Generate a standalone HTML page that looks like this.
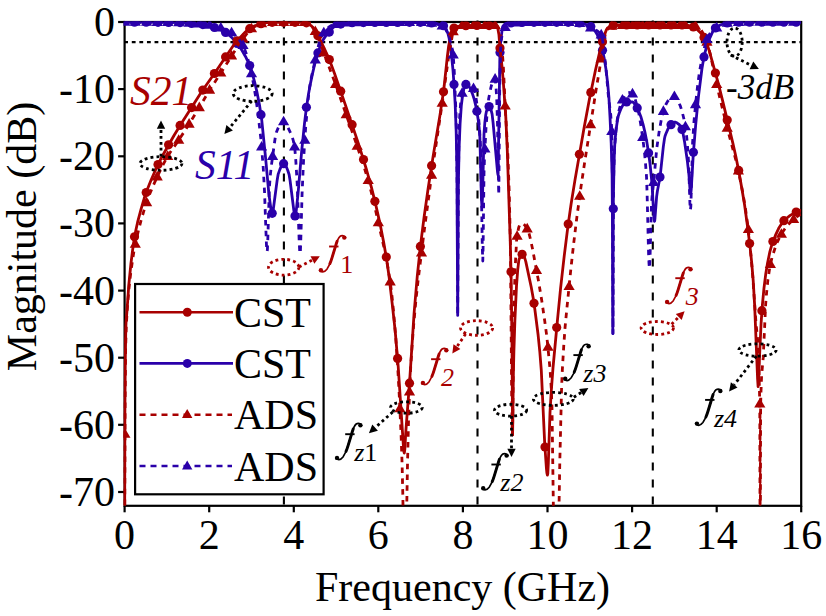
<!DOCTYPE html>
<html><head><meta charset="utf-8"><style>html,body{margin:0;padding:0;background:#fff;overflow:hidden}svg{display:block}</style></head>
<body><svg width="826" height="616" viewBox="0 0 826 616">
<defs><clipPath id="pc"><rect x="123.4" y="21.5" width="677.8" height="484.3"/></clipPath></defs>
<rect width="826" height="616" fill="#fff"/>
<g stroke="#000" stroke-width="2.1" fill="none">
<path d="M124.2 42.1H801.2" stroke-dasharray="3.8 3.787"/>
<path d="M283.9 20.6V505.8" stroke-dasharray="7.8 9.2"/>
<path d="M477.5 20.6V505.8" stroke-dasharray="7.8 9.2"/>
<path d="M652.8 20.6V505.8" stroke-dasharray="7.8 9.2"/>
</g>
<g stroke="#000" stroke-width="2.2" fill="none">
<rect x="124.6" y="22.0" width="676.6" height="483.8"/>
<path d="M118.1 22.0H124.6"/>
<path d="M118.1 89.1H124.6"/>
<path d="M118.1 156.3H124.6"/>
<path d="M118.1 223.4H124.6"/>
<path d="M118.1 290.6H124.6"/>
<path d="M118.1 357.7H124.6"/>
<path d="M118.1 424.8H124.6"/>
<path d="M118.1 492.0H124.6"/>
<path d="M124.6 505.8V512.3"/>
<path d="M209.2 505.8V512.3"/>
<path d="M293.8 505.8V512.3"/>
<path d="M378.3 505.8V512.3"/>
<path d="M462.9 505.8V512.3"/>
<path d="M547.5 505.8V512.3"/>
<path d="M632.1 505.8V512.3"/>
<path d="M716.7 505.8V512.3"/>
<path d="M801.2 505.8V512.3"/>
</g>
<g clip-path="url(#pc)">
<path d="M124.6 22.2 L167.1 22.3 L179.1 22.6 L186.4 23.0 L198.5 24.1 L203.6 24.8 L208.5 25.8 L214.4 27.5 L218.8 29.1 L222.7 30.8 L226.0 32.6 L228.5 34.5 L231.4 37.1 L234.4 40.3 L238.6 45.5 L242.2 50.7 L245.6 56.7 L248.6 63.1 L250.7 68.2 L252.5 74.1 L254.7 82.4 L256.9 91.8 L259.5 105.0 L261.7 119.7 L265.7 159.2 L268.9 194.1 L270.8 207.9 L271.8 212.9 L272.1 213.3 L272.5 213.0 L273.2 210.0 L277.2 179.9 L278.2 174.1 L279.8 169.6 L281.3 166.1 L282.6 164.1 L283.3 163.7 L283.8 163.7 L284.3 163.9 L285.0 164.6 L286.2 166.5 L287.7 170.2 L289.1 174.5 L290.1 180.8 L294.0 211.7 L294.5 214.7 L295.0 216.0 L295.5 215.1 L296.2 211.2 L298.0 194.2 L301.6 151.8 L304.5 123.3 L306.2 109.4 L308.5 94.0 L310.4 83.8 L312.4 74.1 L314.8 63.8 L316.8 56.2 L319.0 49.6 L321.4 43.6 L323.4 39.4 L325.6 36.1 L333.1 27.6 L335.3 25.7 L337.5 24.9 L341.5 23.9 L348.8 22.9 L352.9 22.7 L376.9 22.5 L424.1 22.4 L431.9 22.9 L436.8 23.5 L440.8 24.6 L444.1 26.1 L445.1 27.3 L446.1 29.1 L448.1 34.1 L449.0 37.6 L450.0 43.9 L451.7 57.1 L452.9 69.0 L454.2 86.9 L455.2 104.6 L456.2 132.3 L456.9 168.6 L457.7 315.4 L458.4 183.1 L459.1 147.7 L460.1 123.4 L461.3 105.8 L462.2 98.5 L463.2 91.9 L464.0 88.3 L465.0 85.5 L465.5 84.6 L465.9 84.4 L467.2 84.8 L468.6 85.6 L470.1 88.1 L472.3 93.4 L474.0 98.5 L475.5 104.6 L477.0 112.2 L478.2 119.7 L479.1 127.1 L479.9 137.6 L481.4 198.4 L482.0 207.3 L482.5 197.6 L484.0 134.1 L484.8 123.0 L485.7 115.3 L486.4 111.4 L487.5 108.4 L488.7 106.7 L489.2 106.6 L489.7 107.0 L490.4 108.2 L491.1 110.1 L492.1 114.1 L493.1 122.9 L497.5 171.7 L497.9 174.4 L498.1 175.1 L499.9 54.2 L500.4 45.0 L500.9 39.6 L502.3 28.5 L502.6 26.9 L502.9 26.2 L504.3 24.6 L506.5 23.5 L516.1 22.6 L525.4 22.3 L572.9 22.3 L577.0 22.6 L583.3 23.7 L587.0 24.8 L590.4 26.4 L592.1 27.7 L593.8 29.5 L595.8 32.3 L597.2 34.6 L599.7 40.8 L602.3 49.4 L604.1 57.7 L606.0 69.4 L607.7 83.6 L608.9 97.4 L610.0 116.8 L611.2 143.1 L612.1 175.1 L612.4 213.6 L612.8 333.5 L613.3 203.3 L613.8 175.6 L614.4 151.7 L614.9 142.3 L615.6 134.4 L616.5 126.8 L617.5 120.0 L618.3 116.0 L619.2 113.2 L621.2 108.3 L622.9 105.1 L624.6 102.9 L626.1 102.0 L632.2 101.9 L632.9 102.1 L633.6 102.6 L635.6 105.3 L637.5 108.4 L638.6 110.9 L640.7 116.2 L643.0 124.1 L644.9 132.0 L646.8 141.7 L648.6 153.2 L650.0 163.5 L652.0 183.7 L653.7 214.4 L654.0 218.9 L654.5 221.4 L654.7 220.8 L655.0 218.0 L656.6 196.9 L657.4 191.0 L659.4 180.4 L660.3 174.9 L663.3 146.9 L664.5 138.5 L665.0 136.2 L665.9 133.7 L667.9 129.1 L670.1 125.7 L673.2 122.5 L674.2 122.1 L675.5 122.2 L677.2 123.1 L679.1 124.5 L680.1 125.7 L681.3 127.8 L682.1 129.8 L682.8 132.2 L684.5 141.4 L687.4 161.3 L688.9 174.5 L690.2 192.1 L690.6 193.8 L690.8 193.7 L691.3 188.5 L693.3 153.8 L695.7 124.6 L698.5 96.1 L701.9 69.0 L703.8 57.8 L705.3 51.4 L706.8 46.1 L709.9 37.8 L712.4 32.3 L714.1 29.4 L715.1 28.3 L716.8 27.0 L719.2 25.6 L721.5 24.5 L725.4 23.3 L730.3 22.7 L741.2 22.2 L801.2 22.2" stroke="#2a00aa" stroke-width="2.8" fill="none" stroke-linejoin="round"/><g fill="#2a00aa"><circle cx="134.5" cy="22.2" r="4.6"/><circle cx="146.2" cy="22.2" r="4.6"/><circle cx="158.0" cy="22.3" r="4.6"/><circle cx="168.6" cy="22.4" r="4.6"/><circle cx="180.1" cy="22.6" r="4.6"/><circle cx="191.6" cy="23.5" r="4.6"/><circle cx="202.8" cy="24.6" r="4.6"/><circle cx="214.4" cy="27.5" r="4.6"/><circle cx="225.6" cy="32.4" r="4.6"/><circle cx="237.1" cy="43.5" r="4.6"/><circle cx="249.7" cy="65.6" r="4.6"/><circle cx="261.0" cy="114.7" r="4.6"/><circle cx="272.2" cy="213.3" r="4.6"/><circle cx="283.6" cy="163.7" r="4.6"/><circle cx="295.0" cy="216.0" r="4.6"/><circle cx="306.4" cy="107.3" r="4.6"/><circle cx="317.9" cy="52.9" r="4.6"/><circle cx="329.3" cy="32.1" r="4.6"/><circle cx="340.7" cy="24.1" r="4.6"/><circle cx="352.1" cy="22.7" r="4.6"/><circle cx="363.5" cy="22.6" r="4.6"/><circle cx="374.9" cy="22.5" r="4.6"/><circle cx="386.3" cy="22.4" r="4.6"/><circle cx="397.6" cy="22.4" r="4.6"/><circle cx="409.5" cy="22.3" r="4.6"/><circle cx="420.4" cy="22.3" r="4.6"/><circle cx="431.6" cy="22.9" r="4.6"/><circle cx="443.5" cy="25.7" r="4.6"/><circle cx="454.0" cy="84.4" r="4.6"/><circle cx="465.9" cy="84.4" r="4.6"/><circle cx="476.9" cy="111.3" r="4.6"/><circle cx="489.1" cy="106.6" r="4.6"/><circle cx="500.0" cy="52.5" r="4.6"/><circle cx="511.0" cy="23.0" r="4.6"/><circle cx="522.1" cy="22.4" r="4.6"/><circle cx="534.0" cy="22.3" r="4.6"/><circle cx="545.0" cy="22.3" r="4.6"/><circle cx="556.7" cy="22.3" r="4.6"/><circle cx="568.2" cy="22.3" r="4.6"/><circle cx="579.4" cy="23.0" r="4.6"/><circle cx="590.8" cy="26.6" r="4.6"/><circle cx="602.5" cy="50.2" r="4.6"/><circle cx="613.3" cy="208.8" r="4.6"/><circle cx="626.6" cy="101.9" r="4.6"/><circle cx="637.2" cy="107.9" r="4.6"/><circle cx="648.6" cy="152.9" r="4.6"/><circle cx="660.0" cy="177.1" r="4.6"/><circle cx="671.0" cy="124.7" r="4.6"/><circle cx="682.0" cy="129.4" r="4.6"/><circle cx="693.4" cy="152.3" r="4.6"/><circle cx="704.0" cy="56.9" r="4.6"/><circle cx="715.4" cy="28.0" r="4.6"/><circle cx="727.2" cy="23.0" r="4.6"/><circle cx="738.7" cy="22.2" r="4.6"/><circle cx="749.6" cy="22.2" r="4.6"/><circle cx="761.9" cy="22.2" r="4.6"/><circle cx="772.9" cy="22.2" r="4.6"/><circle cx="783.9" cy="22.2" r="4.6"/><circle cx="796.2" cy="22.2" r="4.6"/></g>
<path d="M124.6 559.1 L124.9 411.4 L125.3 360.4 L125.8 328.0 L126.1 321.3 L127.1 309.4 L128.8 284.9 L130.9 264.0 L132.6 250.1 L134.1 239.6 L135.8 230.5 L137.6 222.2 L141.2 208.6 L144.2 198.3 L147.3 189.5 L151.2 179.7 L155.6 169.8 L160.6 159.3 L165.9 149.7 L174.0 135.5 L181.8 122.7 L201.9 91.3 L214.6 73.2 L233.7 45.0 L239.0 38.7 L244.9 32.4 L248.8 29.3 L253.7 26.4 L256.9 25.0 L260.0 23.9 L265.4 22.8 L269.3 22.4 L304.5 22.3 L306.2 22.7 L308.0 23.5 L311.7 26.2 L313.3 27.9 L315.3 31.2 L320.0 39.7 L323.9 47.6 L328.2 57.0 L331.2 64.5 L334.7 74.1 L345.2 104.4 L358.1 142.6 L362.3 155.8 L366.6 170.0 L371.5 187.7 L375.7 204.7 L380.3 224.9 L383.8 242.9 L386.7 259.8 L389.1 276.8 L392.4 305.3 L395.2 331.1 L398.2 366.5 L403.3 444.7 L403.8 450.5 L404.1 452.6 L404.3 453.0 L404.8 449.6 L405.8 431.8 L409.7 380.4 L414.1 313.0 L417.3 275.9 L420.7 243.8 L424.1 217.0 L428.1 188.7 L433.1 156.4 L440.0 115.0 L443.0 94.9 L444.2 85.8 L447.3 57.0 L448.6 46.3 L449.5 41.8 L451.7 33.0 L452.9 29.7 L453.5 28.5 L454.0 28.0 L455.9 27.1 L457.9 26.5 L463.0 25.9 L473.5 25.4 L487.7 25.5 L496.8 26.1 L497.4 26.9 L498.0 29.5 L498.9 34.4 L500.0 48.2 L502.1 67.4 L503.4 83.2 L505.8 117.1 L507.3 150.6 L510.2 239.7 L511.1 274.5 L512.0 344.3 L512.6 434.9 L513.4 372.7 L513.9 350.9 L514.9 320.1 L516.5 285.9 L517.7 270.1 L518.8 260.3 L519.9 257.2 L521.0 255.0 L521.5 254.5 L522.1 254.3 L522.9 254.8 L524.6 257.7 L525.8 261.6 L531.2 287.0 L533.1 297.5 L534.9 309.7 L538.1 334.8 L539.8 351.7 L541.3 370.4 L544.7 443.4 L546.4 468.0 L546.9 473.0 L547.4 475.2 L547.8 473.6 L548.3 463.7 L550.0 412.6 L551.3 390.6 L553.0 367.9 L557.3 321.9 L560.6 288.1 L564.2 256.1 L567.9 226.4 L571.1 204.0 L575.0 179.9 L584.0 128.2 L589.4 99.2 L595.5 70.0 L599.6 52.4 L601.6 44.8 L605.0 33.5 L606.3 29.9 L607.3 28.2 L609.2 26.9 L611.2 25.9 L613.1 25.3 L614.8 25.0 L684.9 25.0 L686.9 25.2 L689.7 25.8 L693.6 27.1 L695.3 28.0 L697.2 29.4 L699.7 31.9 L702.4 35.2 L704.5 38.2 L706.0 41.4 L707.7 45.9 L709.7 52.4 L718.2 83.1 L722.4 99.9 L732.9 143.3 L735.9 156.8 L738.6 170.3 L741.8 188.2 L744.6 205.1 L747.4 225.5 L750.0 246.4 L751.7 262.6 L753.2 280.7 L754.7 306.3 L757.6 378.9 L758.1 386.6 L758.6 381.2 L759.6 355.0 L761.1 323.2 L762.5 303.7 L764.0 288.0 L765.7 274.3 L767.6 262.8 L769.9 251.6 L772.3 243.2 L775.4 235.4 L778.7 228.3 L782.1 222.9 L783.6 221.0 L785.7 219.0 L790.2 215.4 L796.2 212.0 L801.2 210.0" stroke="#a80000" stroke-width="2.8" fill="none" stroke-linejoin="round"/><g fill="#a80000"><circle cx="134.5" cy="236.8" r="4.6"/><circle cx="146.2" cy="192.5" r="4.6"/><circle cx="158.0" cy="164.6" r="4.6"/><circle cx="168.6" cy="144.8" r="4.6"/><circle cx="180.1" cy="125.4" r="4.6"/><circle cx="191.6" cy="107.6" r="4.6"/><circle cx="202.8" cy="90.1" r="4.6"/><circle cx="214.4" cy="73.5" r="4.6"/><circle cx="225.6" cy="56.9" r="4.6"/><circle cx="237.1" cy="40.8" r="4.6"/><circle cx="249.7" cy="28.7" r="4.6"/><circle cx="261.0" cy="23.7" r="4.6"/><circle cx="272.2" cy="22.3" r="4.6"/><circle cx="283.6" cy="22.3" r="4.6"/><circle cx="295.0" cy="22.3" r="4.6"/><circle cx="306.4" cy="22.8" r="4.6"/><circle cx="317.9" cy="35.8" r="4.6"/><circle cx="329.3" cy="59.6" r="4.6"/><circle cx="340.7" cy="91.2" r="4.6"/><circle cx="352.1" cy="124.7" r="4.6"/><circle cx="363.5" cy="159.6" r="4.6"/><circle cx="374.9" cy="201.3" r="4.6"/><circle cx="386.3" cy="257.1" r="4.6"/><circle cx="397.6" cy="358.4" r="4.6"/><circle cx="409.5" cy="383.2" r="4.6"/><circle cx="420.4" cy="246.4" r="4.6"/><circle cx="431.6" cy="165.7" r="4.6"/><circle cx="443.5" cy="91.8" r="4.6"/><circle cx="454.0" cy="28.0" r="4.6"/><circle cx="465.9" cy="25.7" r="4.6"/><circle cx="476.9" cy="25.4" r="4.6"/><circle cx="489.1" cy="25.6" r="4.6"/><circle cx="500.0" cy="48.0" r="4.6"/><circle cx="511.0" cy="271.8" r="4.6"/><circle cx="522.1" cy="254.3" r="4.6"/><circle cx="534.0" cy="303.3" r="4.6"/><circle cx="545.0" cy="447.0" r="4.6"/><circle cx="556.7" cy="327.5" r="4.6"/><circle cx="568.2" cy="224.1" r="4.6"/><circle cx="579.4" cy="154.3" r="4.6"/><circle cx="590.8" cy="92.4" r="4.6"/><circle cx="602.5" cy="41.8" r="4.6"/><circle cx="613.3" cy="25.2" r="4.6"/><circle cx="626.6" cy="25.0" r="4.6"/><circle cx="637.2" cy="25.0" r="4.6"/><circle cx="648.6" cy="25.0" r="4.6"/><circle cx="660.0" cy="25.0" r="4.6"/><circle cx="671.0" cy="25.0" r="4.6"/><circle cx="682.0" cy="25.0" r="4.6"/><circle cx="693.4" cy="27.0" r="4.6"/><circle cx="704.0" cy="37.4" r="4.6"/><circle cx="715.4" cy="73.0" r="4.6"/><circle cx="727.2" cy="120.0" r="4.6"/><circle cx="738.7" cy="170.4" r="4.6"/><circle cx="749.6" cy="243.6" r="4.6"/><circle cx="761.9" cy="310.7" r="4.6"/><circle cx="772.9" cy="241.5" r="4.6"/><circle cx="783.9" cy="220.7" r="4.6"/><circle cx="796.2" cy="212.0" r="4.6"/></g>
<path d="M124.6 559.1 L125.1 400.2 L125.6 349.3 L126.3 325.8 L127.5 305.0 L129.3 285.2 L130.7 273.2 L132.6 259.8 L134.2 249.6 L136.1 240.5 L138.5 230.3 L141.0 220.6 L143.7 211.4 L146.9 201.6 L149.8 193.8 L153.5 184.9 L158.6 173.8 L162.8 165.2 L166.7 158.0 L170.1 152.5 L178.2 140.9 L185.7 129.4 L198.2 109.4 L210.0 89.4 L220.7 73.2 L230.4 57.8 L239.5 43.7 L246.1 34.7 L249.3 30.7 L252.3 28.1 L256.7 25.3 L259.1 24.2 L262.0 23.5 L265.9 22.7 L269.1 22.4 L306.5 22.3 L307.8 22.7 L309.4 23.7 L310.9 25.3 L312.8 27.7 L316.0 32.4 L318.0 36.8 L323.2 51.4 L335.6 84.4 L356.4 143.9 L364.0 166.6 L368.6 181.9 L371.5 192.9 L374.7 206.5 L383.5 245.3 L386.4 259.1 L388.6 271.4 L390.6 284.7 L392.1 297.2 L393.6 312.2 L395.8 338.2 L397.5 363.2 L399.2 394.1 L401.1 435.1 L402.1 464.3 L402.9 498.5 L403.7 559.1 L405.8 559.1 L407.5 464.5 L408.5 421.6 L409.4 395.3 L410.7 367.3 L412.1 345.4 L413.6 325.7 L415.8 301.4 L418.2 279.4 L423.7 234.7 L432.5 168.5 L442.2 103.2 L448.3 58.8 L452.3 35.3 L453.5 30.6 L454.5 28.7 L456.2 27.4 L458.1 26.3 L459.8 25.7 L461.5 25.4 L496.0 25.4 L496.5 25.5 L497.2 26.1 L498.4 27.8 L500.1 31.9 L500.6 34.0 L501.8 44.6 L503.4 67.9 L505.2 105.9 L507.7 151.4 L509.2 192.1 L510.4 242.5 L511.7 395.8 L512.1 424.4 L512.4 434.9 L512.8 417.8 L513.4 342.8 L513.9 311.1 L515.1 269.5 L516.6 240.2 L517.5 233.3 L518.7 227.6 L519.5 225.5 L521.2 223.7 L521.9 223.4 L522.7 223.5 L523.6 224.0 L524.6 225.0 L527.3 229.0 L528.7 232.2 L530.3 238.5 L532.4 248.2 L538.5 281.0 L541.7 300.2 L544.7 320.8 L546.6 334.9 L547.9 347.0 L550.1 369.8 L551.3 388.9 L552.0 408.0 L554.0 552.2 L554.3 559.1 L558.1 559.0 L559.8 462.1 L561.6 387.5 L562.3 370.6 L563.7 346.7 L565.0 328.0 L566.6 311.2 L570.8 269.5 L573.5 245.0 L577.0 216.1 L581.1 186.0 L584.5 163.4 L596.0 90.4 L601.8 55.7 L604.1 40.4 L605.5 33.3 L606.1 31.1 L606.7 30.1 L608.7 28.2 L610.7 26.7 L612.7 25.8 L614.8 25.4 L689.2 25.4 L693.1 25.7 L698.0 26.8 L699.2 27.7 L700.6 29.2 L702.3 31.9 L704.3 36.0 L707.2 42.7 L708.3 46.3 L710.7 55.9 L716.1 82.1 L720.0 98.6 L727.8 130.3 L735.8 159.9 L739.3 175.5 L742.7 192.3 L745.4 208.1 L747.9 226.0 L749.8 242.3 L752.7 275.7 L755.9 322.0 L757.8 341.5 L758.4 353.8 L758.9 367.6 L759.8 404.0 L760.1 559.1 L760.3 559.1 L760.6 405.7 L761.0 391.5 L761.6 375.7 L763.2 357.9 L765.7 303.4 L766.6 292.6 L767.9 279.8 L769.8 267.3 L772.1 257.2 L775.4 247.0 L777.2 242.3 L779.1 238.3 L781.1 234.6 L783.5 230.8 L785.8 227.6 L788.5 224.3 L791.6 221.2 L795.1 218.1 L798.2 215.8 L801.2 214.0" stroke="#a80000" stroke-width="2.8" fill="none" stroke-linejoin="round" stroke-dasharray="5.5 5.3"/><g fill="#a80000"><path d="M124.9 428.2l5.6 9.6h-11.2z"/><path d="M135.3 238.2l5.6 9.6h-11.2z"/><path d="M146.6 196.6l5.6 9.6h-11.2z"/><path d="M157.2 170.8l5.6 9.6h-11.2z"/><path d="M167.7 150.3l5.6 9.6h-11.2z"/><path d="M178.7 134.2l5.6 9.6h-11.2z"/><path d="M189.1 118.1l5.6 9.6h-11.2z"/><path d="M199.3 101.6l5.6 9.6h-11.2z"/><path d="M209.6 84.1l5.6 9.6h-11.2z"/><path d="M220.8 67.0l5.6 9.6h-11.2z"/><path d="M231.6 49.9l5.6 9.6h-11.2z"/><path d="M243.0 32.8l5.6 9.6h-11.2z"/><path d="M251.5 22.7l5.6 9.6h-11.2z"/><path d="M261.6 17.6l5.6 9.6h-11.2z"/><path d="M272.6 16.3l5.6 9.6h-11.2z"/><path d="M283.6 16.3l5.6 9.6h-11.2z"/><path d="M294.6 16.3l5.6 9.6h-11.2z"/><path d="M304.8 16.3l5.6 9.6h-11.2z"/><path d="M315.3 25.4l5.6 9.6h-11.2z"/><path d="M323.8 46.9l5.6 9.6h-11.2z"/><path d="M335.6 78.4l5.6 9.6h-11.2z"/><path d="M346.2 108.7l5.6 9.6h-11.2z"/><path d="M357.2 140.2l5.6 9.6h-11.2z"/><path d="M368.2 174.5l5.6 9.6h-11.2z"/><path d="M378.3 216.7l5.6 9.6h-11.2z"/><path d="M390.2 275.8l5.6 9.6h-11.2z"/><path d="M399.9 402.7l5.6 9.6h-11.2z"/><path d="M409.5 385.9l5.6 9.6h-11.2z"/><path d="M421.5 247.0l5.6 9.6h-11.2z"/><path d="M431.6 169.1l5.6 9.6h-11.2z"/><path d="M442.2 97.2l5.6 9.6h-11.2z"/><path d="M453.2 25.7l5.6 9.6h-11.2z"/><path d="M462.1 19.4l5.6 9.6h-11.2z"/><path d="M473.5 19.4l5.6 9.6h-11.2z"/><path d="M484.9 19.4l5.6 9.6h-11.2z"/><path d="M495.1 19.4l5.6 9.6h-11.2z"/><path d="M505.2 99.9l5.6 9.6h-11.2z"/><path d="M517.1 230.2l5.6 9.6h-11.2z"/><path d="M527.2 222.8l5.6 9.6h-11.2z"/><path d="M536.5 264.4l5.6 9.6h-11.2z"/><path d="M548.0 341.2l5.6 9.6h-11.2z"/><path d="M569.1 280.5l5.6 9.6h-11.2z"/><path d="M579.7 190.2l5.6 9.6h-11.2z"/><path d="M590.6 118.7l5.6 9.6h-11.2z"/><path d="M601.2 52.9l5.6 9.6h-11.2z"/><path d="M611.8 20.1l5.6 9.6h-11.2z"/><path d="M622.4 19.4l5.6 9.6h-11.2z"/><path d="M632.5 19.4l5.6 9.6h-11.2z"/><path d="M642.7 19.4l5.6 9.6h-11.2z"/><path d="M653.6 19.4l5.6 9.6h-11.2z"/><path d="M663.4 19.4l5.6 9.6h-11.2z"/><path d="M674.4 19.4l5.6 9.6h-11.2z"/><path d="M685.4 19.4l5.6 9.6h-11.2z"/><path d="M695.5 20.1l5.6 9.6h-11.2z"/><path d="M706.9 36.1l5.6 9.6h-11.2z"/><path d="M716.7 78.4l5.6 9.6h-11.2z"/><path d="M727.2 122.1l5.6 9.6h-11.2z"/><path d="M738.4 165.0l5.6 9.6h-11.2z"/><path d="M748.4 223.5l5.6 9.6h-11.2z"/><path d="M759.8 398.0l5.6 9.6h-11.2z"/><path d="M770.4 258.4l5.6 9.6h-11.2z"/><path d="M781.4 228.2l5.6 9.6h-11.2z"/><path d="M793.6 213.4l5.6 9.6h-11.2z"/></g>
<path d="M124.6 22.2 L167.1 22.3 L177.4 22.6 L195.0 23.4 L202.4 24.2 L209.5 25.1 L213.8 25.9 L219.0 27.5 L224.8 29.4 L228.8 31.2 L232.0 33.0 L234.6 34.9 L237.1 37.4 L239.5 40.2 L242.5 44.7 L244.4 48.4 L246.6 54.7 L249.0 63.3 L251.8 75.3 L253.5 83.8 L255.7 97.1 L257.9 112.7 L261.0 140.0 L263.2 167.2 L264.5 191.1 L266.4 243.6 L266.7 249.2 L267.1 251.6 L267.4 249.6 L267.7 242.7 L269.4 187.1 L270.3 175.4 L271.5 164.7 L274.7 141.2 L275.5 136.0 L276.4 132.2 L278.1 128.1 L280.3 124.2 L282.0 122.4 L282.8 121.9 L283.7 121.7 L284.3 121.9 L285.0 122.4 L286.4 124.3 L291.3 134.5 L292.3 137.2 L293.3 140.7 L294.8 148.3 L295.8 160.5 L297.2 183.9 L299.2 241.7 L299.7 251.2 L300.1 253.6 L300.4 251.1 L300.7 243.0 L302.1 193.1 L303.6 159.4 L305.6 127.9 L308.2 99.0 L309.5 87.8 L311.1 78.6 L317.8 48.4 L318.8 44.4 L320.4 39.9 L321.9 36.2 L323.4 33.3 L325.4 30.6 L327.5 28.3 L329.3 26.7 L331.0 25.7 L334.4 24.6 L338.6 23.7 L342.5 23.1 L346.4 22.7 L382.5 22.4 L423.4 22.4 L430.0 22.9 L436.1 23.8 L440.3 25.2 L442.4 26.1 L443.4 26.9 L445.6 29.4 L447.6 32.9 L449.3 37.6 L451.5 45.3 L452.3 49.3 L453.2 54.9 L454.2 70.1 L456.1 115.8 L456.7 146.5 L457.2 189.9 L457.7 315.4 L458.3 189.9 L459.1 129.3 L459.8 114.1 L460.8 101.2 L462.0 93.5 L462.8 90.3 L463.9 87.7 L464.6 86.5 L466.1 84.9 L466.9 84.5 L467.7 84.5 L469.3 84.9 L470.8 85.8 L472.5 87.3 L473.8 89.0 L474.8 92.1 L475.9 97.0 L478.2 113.4 L479.6 129.3 L480.8 152.0 L482.3 247.2 L482.8 261.0 L483.1 247.0 L484.0 173.2 L484.5 157.6 L486.0 127.9 L487.2 112.3 L488.7 98.5 L490.8 87.9 L491.6 84.8 L492.4 82.6 L493.8 80.1 L494.8 79.1 L495.2 79.2 L495.3 79.7 L496.0 86.5 L496.8 101.1 L497.5 123.3 L498.7 194.5 L498.9 184.7 L499.7 89.1 L500.6 50.4 L500.9 42.9 L501.4 38.9 L502.4 33.6 L503.6 30.1 L504.6 28.3 L506.0 26.5 L507.2 25.3 L508.4 24.4 L510.9 23.7 L516.6 22.9 L525.4 22.3 L573.0 22.3 L577.2 22.8 L583.0 24.2 L585.7 25.3 L590.8 27.8 L595.0 29.6 L597.0 30.7 L599.2 32.5 L601.2 34.8 L601.9 36.7 L602.8 41.3 L605.6 64.6 L608.5 97.1 L610.7 114.4 L611.6 126.9 L612.1 145.3 L612.5 189.9 L613.0 333.5 L613.5 189.9 L613.9 166.5 L614.4 151.3 L615.8 131.9 L616.6 124.1 L617.5 118.2 L618.8 111.3 L620.4 105.1 L621.7 101.2 L623.2 98.4 L625.9 94.5 L627.1 93.3 L628.3 92.6 L629.3 92.5 L630.7 92.8 L632.5 93.9 L633.2 94.6 L634.1 96.2 L635.1 99.0 L637.6 107.7 L639.1 114.8 L640.8 124.8 L642.9 139.1 L644.4 151.5 L645.4 162.0 L646.5 176.4 L647.1 193.6 L648.6 254.4 L649.0 263.4 L649.4 268.4 L649.6 266.8 L650.0 258.9 L651.5 203.9 L652.2 195.4 L653.7 182.0 L656.7 148.8 L659.3 130.5 L661.8 117.0 L663.0 112.5 L664.4 108.5 L666.0 104.3 L667.6 101.4 L669.1 99.4 L672.3 97.1 L673.3 96.7 L674.4 96.5 L675.0 96.7 L675.7 97.2 L677.6 100.0 L680.4 106.2 L682.1 111.5 L683.8 118.5 L685.3 126.6 L686.2 132.4 L687.2 141.9 L688.0 152.3 L688.7 165.0 L689.9 202.9 L690.4 210.0 L690.8 206.8 L691.1 197.5 L692.6 142.9 L694.0 121.3 L696.2 98.4 L697.7 85.2 L699.2 74.0 L700.4 66.7 L702.4 56.2 L704.1 48.7 L705.8 42.6 L707.3 38.5 L709.4 34.4 L711.6 31.4 L713.1 30.1 L714.9 28.8 L723.2 24.5 L726.1 23.4 L728.7 22.9 L734.9 22.4 L741.0 22.2 L801.2 22.2" stroke="#2a00aa" stroke-width="2.8" fill="none" stroke-linejoin="round" stroke-dasharray="5.5 5.3"/><g fill="#2a00aa"><path d="M124.9 16.2l5.6 9.6h-11.2z"/><path d="M135.3 16.2l5.6 9.6h-11.2z"/><path d="M146.6 16.2l5.6 9.6h-11.2z"/><path d="M157.2 16.3l5.6 9.6h-11.2z"/><path d="M167.7 16.3l5.6 9.6h-11.2z"/><path d="M178.7 16.6l5.6 9.6h-11.2z"/><path d="M189.1 17.1l5.6 9.6h-11.2z"/><path d="M199.3 17.8l5.6 9.6h-11.2z"/><path d="M209.6 19.1l5.6 9.6h-11.2z"/><path d="M220.8 22.0l5.6 9.6h-11.2z"/><path d="M231.6 26.7l5.6 9.6h-11.2z"/><path d="M243.0 39.5l5.6 9.6h-11.2z"/><path d="M251.5 67.7l5.6 9.6h-11.2z"/><path d="M261.6 140.9l5.6 9.6h-11.2z"/><path d="M272.6 150.3l5.6 9.6h-11.2z"/><path d="M283.6 115.7l5.6 9.6h-11.2z"/><path d="M294.6 140.9l5.6 9.6h-11.2z"/><path d="M304.8 134.2l5.6 9.6h-11.2z"/><path d="M315.3 54.0l5.6 9.6h-11.2z"/><path d="M323.8 26.7l5.6 9.6h-11.2z"/><path d="M335.6 18.3l5.6 9.6h-11.2z"/><path d="M346.2 16.8l5.6 9.6h-11.2z"/><path d="M357.2 16.6l5.6 9.6h-11.2z"/><path d="M368.2 16.5l5.6 9.6h-11.2z"/><path d="M378.3 16.4l5.6 9.6h-11.2z"/><path d="M390.2 16.4l5.6 9.6h-11.2z"/><path d="M399.9 16.4l5.6 9.6h-11.2z"/><path d="M409.5 16.3l5.6 9.6h-11.2z"/><path d="M421.5 16.3l5.6 9.6h-11.2z"/><path d="M431.6 17.1l5.6 9.6h-11.2z"/><path d="M442.2 20.0l5.6 9.6h-11.2z"/><path d="M453.2 48.9l5.6 9.6h-11.2z"/><path d="M462.1 87.2l5.6 9.6h-11.2z"/><path d="M473.5 82.5l5.6 9.6h-11.2z"/><path d="M484.9 142.9l5.6 9.6h-11.2z"/><path d="M495.1 73.1l5.6 9.6h-11.2z"/><path d="M505.2 21.5l5.6 9.6h-11.2z"/><path d="M517.1 16.8l5.6 9.6h-11.2z"/><path d="M527.2 16.3l5.6 9.6h-11.2z"/><path d="M536.5 16.3l5.6 9.6h-11.2z"/><path d="M548.0 16.3l5.6 9.6h-11.2z"/><path d="M558.5 16.3l5.6 9.6h-11.2z"/><path d="M569.1 16.3l5.6 9.6h-11.2z"/><path d="M579.7 17.3l5.6 9.6h-11.2z"/><path d="M590.6 21.8l5.6 9.6h-11.2z"/><path d="M601.2 28.8l5.6 9.6h-11.2z"/><path d="M611.8 125.4l5.6 9.6h-11.2z"/><path d="M622.4 93.9l5.6 9.6h-11.2z"/><path d="M632.5 87.8l5.6 9.6h-11.2z"/><path d="M642.7 131.5l5.6 9.6h-11.2z"/><path d="M653.6 176.5l5.6 9.6h-11.2z"/><path d="M663.4 105.3l5.6 9.6h-11.2z"/><path d="M674.4 90.5l5.6 9.6h-11.2z"/><path d="M685.4 120.7l5.6 9.6h-11.2z"/><path d="M695.5 98.6l5.6 9.6h-11.2z"/><path d="M706.9 33.5l5.6 9.6h-11.2z"/><path d="M716.7 21.8l5.6 9.6h-11.2z"/><path d="M727.2 17.1l5.6 9.6h-11.2z"/><path d="M738.4 16.3l5.6 9.6h-11.2z"/><path d="M748.4 16.2l5.6 9.6h-11.2z"/><path d="M759.8 16.2l5.6 9.6h-11.2z"/><path d="M770.4 16.2l5.6 9.6h-11.2z"/><path d="M781.4 16.2l5.6 9.6h-11.2z"/><path d="M793.6 16.2l5.6 9.6h-11.2z"/></g>
<path d="M760.2 411.4V505.8" stroke="#a80000" stroke-width="2" fill="none"/>
</g>
<g font-family="Liberation Serif, serif" font-size="42" fill="#000">
<text x="115" y="36.0" text-anchor="end">0</text>
<text x="115" y="103.1" text-anchor="end">-10</text>
<text x="115" y="170.3" text-anchor="end">-20</text>
<text x="115" y="237.4" text-anchor="end">-30</text>
<text x="115" y="304.6" text-anchor="end">-40</text>
<text x="115" y="371.7" text-anchor="end">-50</text>
<text x="115" y="438.8" text-anchor="end">-60</text>
<text x="115" y="506.0" text-anchor="end">-70</text>
<text x="124.6" y="549" text-anchor="middle">0</text>
<text x="209.2" y="549" text-anchor="middle">2</text>
<text x="293.8" y="549" text-anchor="middle">4</text>
<text x="378.3" y="549" text-anchor="middle">6</text>
<text x="462.9" y="549" text-anchor="middle">8</text>
<text x="547.5" y="549" text-anchor="middle">10</text>
<text x="632.1" y="549" text-anchor="middle">12</text>
<text x="716.7" y="549" text-anchor="middle">14</text>
<text x="801.2" y="549" text-anchor="middle">16</text>
<text x="315" y="600.5">Frequency (GHz)</text>
<text transform="translate(35.5 236.5) rotate(-90)" text-anchor="middle">Magnitude (dB)</text>
</g>
<rect x="135.1" y="284.0" width="188.5" height="210.3" fill="#fff" stroke="#000" stroke-width="2.2"/>
<path d="M139.5 312.2H233" stroke="#a80000" stroke-width="2.6" fill="none"/>
<circle cx="187.3" cy="312.2" r="4.5" fill="#a80000"/>
<text x="234" y="326.7" font-family="Liberation Serif, serif" font-size="42">CST</text>
<path d="M139.5 363.4H233" stroke="#2a00aa" stroke-width="2.6" fill="none"/>
<circle cx="187.3" cy="363.4" r="4.5" fill="#2a00aa"/>
<text x="234" y="377.9" font-family="Liberation Serif, serif" font-size="42">CST</text>
<path d="M139.5 414.7H232" stroke="#a80000" stroke-width="2.6" stroke-dasharray="6 5" fill="none"/>
<path d="M187.2 409.1l5.2 9h-10.4z" fill="#a80000"/>
<text x="234" y="429.2" font-family="Liberation Serif, serif" font-size="42">ADS</text>
<path d="M139.5 466.0H232" stroke="#2a00aa" stroke-width="2.6" stroke-dasharray="6 5" fill="none"/>
<path d="M187.2 460.4l5.2 9h-10.4z" fill="#2a00aa"/>
<text x="234" y="480.5" font-family="Liberation Serif, serif" font-size="42">ADS</text>
<ellipse cx="161.0" cy="163.5" rx="21.0" ry="6.8" fill="none" stroke="#000" stroke-width="2.8" stroke-dasharray="2.8 3.1"/>
<path d="M161.0 156.5L161.0 128.8" stroke="#000" stroke-width="2.8" stroke-dasharray="2.8 3.1" fill="none"/><path d="M161.0 120.5L165.2 128.8L156.8 128.8z" fill="#000"/>
<ellipse cx="252.7" cy="93.5" rx="19.5" ry="7.8" fill="none" stroke="#000" stroke-width="2.8" stroke-dasharray="2.8 3.1"/>
<path d="M251.7 101.0L229.7 127.7" stroke="#000" stroke-width="2.8" stroke-dasharray="2.8 3.1" fill="none"/><path d="M224.4 134.1L226.4 125.0L232.9 130.4z" fill="#000"/>
<ellipse cx="283.7" cy="267.2" rx="15.2" ry="7.9" fill="none" stroke="#a80000" stroke-width="2.8" stroke-dasharray="2.8 3.1"/>
<path d="M299.0 267.0L312.4 260.0" stroke="#a80000" stroke-width="2.8" stroke-dasharray="2.8 3.1" fill="none"/><path d="M319.8 256.2L314.4 263.8L310.5 256.3z" fill="#a80000"/>
<ellipse cx="476.6" cy="328.0" rx="16.1" ry="7.3" fill="none" stroke="#a80000" stroke-width="2.8" stroke-dasharray="2.8 3.1"/>
<path d="M465.6 334.0L457.0 346.6" stroke="#a80000" stroke-width="2.8" stroke-dasharray="2.8 3.1" fill="none"/><path d="M452.3 353.5L453.5 344.3L460.4 349.0z" fill="#a80000"/>
<ellipse cx="657.3" cy="328.0" rx="16.2" ry="6.5" fill="none" stroke="#a80000" stroke-width="2.8" stroke-dasharray="2.8 3.1"/>
<path d="M671.6 324.2L678.7 317.1" stroke="#a80000" stroke-width="2.8" stroke-dasharray="2.8 3.1" fill="none"/><path d="M684.6 311.2L681.7 320.0L675.8 314.1z" fill="#a80000"/>
<ellipse cx="734.6" cy="42.1" rx="7.6" ry="14.1" fill="none" stroke="#000" stroke-width="2.8" stroke-dasharray="2.8 3.1"/>
<path d="M730.6 55.0L751.5 65.4" stroke="#000" stroke-width="2.8" stroke-dasharray="2.8 3.1" fill="none"/><path d="M758.9 69.1L749.6 69.2L753.3 61.6z" fill="#000"/>
<ellipse cx="406.4" cy="407.5" rx="15.9" ry="5.7" fill="none" stroke="#000" stroke-width="2.8" stroke-dasharray="2.8 3.1"/>
<path d="M392.7 412.0L375.1 427.7" stroke="#000" stroke-width="2.8" stroke-dasharray="2.8 3.1" fill="none"/><path d="M368.9 433.2L372.3 424.5L377.9 430.8z" fill="#000"/>
<ellipse cx="510.6" cy="410.2" rx="16.1" ry="5.9" fill="none" stroke="#000" stroke-width="2.8" stroke-dasharray="2.8 3.1"/>
<path d="M511.5 416.0L511.5 448.7" stroke="#000" stroke-width="2.8" stroke-dasharray="2.8 3.1" fill="none"/><path d="M511.5 457.0L507.3 448.7L515.7 448.7z" fill="#000"/>
<ellipse cx="553.3" cy="398.9" rx="20.0" ry="6.5" fill="none" stroke="#000" stroke-width="2.8" stroke-dasharray="2.8 3.1"/>
<path d="M573.8 397.2L581.4 392.4" stroke="#000" stroke-width="2.8" stroke-dasharray="2.8 3.1" fill="none"/><path d="M588.4 388.0L583.6 396.0L579.1 388.9z" fill="#000"/>
<ellipse cx="757.5" cy="350.0" rx="18.7" ry="6.2" fill="none" stroke="#000" stroke-width="2.8" stroke-dasharray="2.8 3.1"/>
<path d="M756.4 356.1L734.2 384.8" stroke="#000" stroke-width="2.8" stroke-dasharray="2.8 3.1" fill="none"/><path d="M729.1 391.4L730.9 382.3L737.5 387.4z" fill="#000"/>
<g font-family="Liberation Serif, serif" font-style="italic">
<text x="130" y="105" font-size="41.5" fill="#a80000">S21</text>
<text x="195" y="179" font-size="41.5" fill="#2a00aa">S11</text>
<text x="726" y="98.5" font-size="35" fill="#000">-3dB</text>
</g>
<g transform="translate(344.3 237.6)" fill="none" stroke="#a80000" stroke-linecap="round"><path d="M1.2 0.2C0.6 -1.8 -2.2 -2.6 -4.2 -1.3C-6.4 0.4 -7.6 4.5 -8.6 8L-12.4 20.5C-13.6 24.6 -15.2 28.6 -17.4 31.6C-19.2 33.9 -21.6 35 -23.4 33.6" stroke-width="1.7"/><path d="M-7.2 3.6C-7.9 5.6 -8.4 7.2 -8.6 8L-12.4 20.5C-13.0 22.5 -13.6 24.3 -14.4 26" stroke-width="2.9"/><path d="M-15.2 8.9H-5.8" stroke-width="1.9" stroke-linecap="butt"/><circle cx="0" cy="0" r="2.2" fill="#a80000" stroke="none"/><circle cx="-23.4" cy="32.6" r="2.2" fill="#a80000" stroke="none"/></g><text x="340.2" y="273.2" font-family="Liberation Serif, serif" font-style="italic" font-size="26" fill="#a80000"><tspan font-style="normal">1</tspan></text>
<g transform="translate(446.3 350.3)" fill="none" stroke="#a80000" stroke-linecap="round"><path d="M1.2 0.2C0.6 -1.8 -2.2 -2.6 -4.2 -1.3C-6.4 0.4 -7.6 4.5 -8.6 8L-12.4 20.5C-13.6 24.6 -15.2 28.6 -17.4 31.6C-19.2 33.9 -21.6 35 -23.4 33.6" stroke-width="1.7"/><path d="M-7.2 3.6C-7.9 5.6 -8.4 7.2 -8.6 8L-12.4 20.5C-13.0 22.5 -13.6 24.3 -14.4 26" stroke-width="2.9"/><path d="M-15.2 8.9H-5.8" stroke-width="1.9" stroke-linecap="butt"/><circle cx="0" cy="0" r="2.2" fill="#a80000" stroke="none"/><circle cx="-23.4" cy="32.6" r="2.2" fill="#a80000" stroke="none"/></g><text x="440.9" y="385.9" font-family="Liberation Serif, serif" font-style="italic" font-size="26" fill="#a80000">2</text>
<g transform="translate(690.5 269.3)" fill="none" stroke="#a80000" stroke-linecap="round"><path d="M1.2 0.2C0.6 -1.8 -2.2 -2.6 -4.2 -1.3C-6.4 0.4 -7.6 4.5 -8.6 8L-12.4 20.5C-13.6 24.6 -15.2 28.6 -17.4 31.6C-19.2 33.9 -21.6 35 -23.4 33.6" stroke-width="1.7"/><path d="M-7.2 3.6C-7.9 5.6 -8.4 7.2 -8.6 8L-12.4 20.5C-13.0 22.5 -13.6 24.3 -14.4 26" stroke-width="2.9"/><path d="M-15.2 8.9H-5.8" stroke-width="1.9" stroke-linecap="butt"/><circle cx="0" cy="0" r="2.2" fill="#a80000" stroke="none"/><circle cx="-23.4" cy="32.6" r="2.2" fill="#a80000" stroke="none"/></g><text x="685.7" y="304.9" font-family="Liberation Serif, serif" font-style="italic" font-size="26" fill="#a80000">3</text>
<g transform="translate(360.4 425.3)" fill="none" stroke="#000" stroke-linecap="round"><path d="M1.2 0.2C0.6 -1.8 -2.2 -2.6 -4.2 -1.3C-6.4 0.4 -7.6 4.5 -8.6 8L-12.4 20.5C-13.6 24.6 -15.2 28.6 -17.4 31.6C-19.2 33.9 -21.6 35 -23.4 33.6" stroke-width="1.7"/><path d="M-7.2 3.6C-7.9 5.6 -8.4 7.2 -8.6 8L-12.4 20.5C-13.0 22.5 -13.6 24.3 -14.4 26" stroke-width="2.9"/><path d="M-15.2 8.9H-5.8" stroke-width="1.9" stroke-linecap="butt"/><circle cx="0" cy="0" r="2.2" fill="#000" stroke="none"/><circle cx="-23.4" cy="32.6" r="2.2" fill="#000" stroke="none"/></g><text x="354.2" y="460.9" font-family="Liberation Serif, serif" font-style="italic" font-size="26" fill="#000">z<tspan font-style="normal">1</tspan></text>
<g transform="translate(506.6 455.6)" fill="none" stroke="#000" stroke-linecap="round"><path d="M1.2 0.2C0.6 -1.8 -2.2 -2.6 -4.2 -1.3C-6.4 0.4 -7.6 4.5 -8.6 8L-12.4 20.5C-13.6 24.6 -15.2 28.6 -17.4 31.6C-19.2 33.9 -21.6 35 -23.4 33.6" stroke-width="1.7"/><path d="M-7.2 3.6C-7.9 5.6 -8.4 7.2 -8.6 8L-12.4 20.5C-13.0 22.5 -13.6 24.3 -14.4 26" stroke-width="2.9"/><path d="M-15.2 8.9H-5.8" stroke-width="1.9" stroke-linecap="butt"/><circle cx="0" cy="0" r="2.2" fill="#000" stroke="none"/><circle cx="-23.4" cy="32.6" r="2.2" fill="#000" stroke="none"/></g><text x="500.3" y="491.2" font-family="Liberation Serif, serif" font-style="italic" font-size="26" fill="#000">z2</text>
<g transform="translate(588.6 346.2)" fill="none" stroke="#000" stroke-linecap="round"><path d="M1.2 0.2C0.6 -1.8 -2.2 -2.6 -4.2 -1.3C-6.4 0.4 -7.6 4.5 -8.6 8L-12.4 20.5C-13.6 24.6 -15.2 28.6 -17.4 31.6C-19.2 33.9 -21.6 35 -23.4 33.6" stroke-width="1.7"/><path d="M-7.2 3.6C-7.9 5.6 -8.4 7.2 -8.6 8L-12.4 20.5C-13.0 22.5 -13.6 24.3 -14.4 26" stroke-width="2.9"/><path d="M-15.2 8.9H-5.8" stroke-width="1.9" stroke-linecap="butt"/><circle cx="0" cy="0" r="2.2" fill="#000" stroke="none"/><circle cx="-23.4" cy="32.6" r="2.2" fill="#000" stroke="none"/></g><text x="583.3" y="381.8" font-family="Liberation Serif, serif" font-style="italic" font-size="26" fill="#000">z3</text>
<g transform="translate(720.3 391.0)" fill="none" stroke="#000" stroke-linecap="round"><path d="M1.2 0.2C0.6 -1.8 -2.2 -2.6 -4.2 -1.3C-6.4 0.4 -7.6 4.5 -8.6 8L-12.4 20.5C-13.6 24.6 -15.2 28.6 -17.4 31.6C-19.2 33.9 -21.6 35 -23.4 33.6" stroke-width="1.7"/><path d="M-7.2 3.6C-7.9 5.6 -8.4 7.2 -8.6 8L-12.4 20.5C-13.0 22.5 -13.6 24.3 -14.4 26" stroke-width="2.9"/><path d="M-15.2 8.9H-5.8" stroke-width="1.9" stroke-linecap="butt"/><circle cx="0" cy="0" r="2.2" fill="#000" stroke="none"/><circle cx="-23.4" cy="32.6" r="2.2" fill="#000" stroke="none"/></g><text x="714.0" y="426.6" font-family="Liberation Serif, serif" font-style="italic" font-size="26" fill="#000">z4</text>
</svg></body></html>
